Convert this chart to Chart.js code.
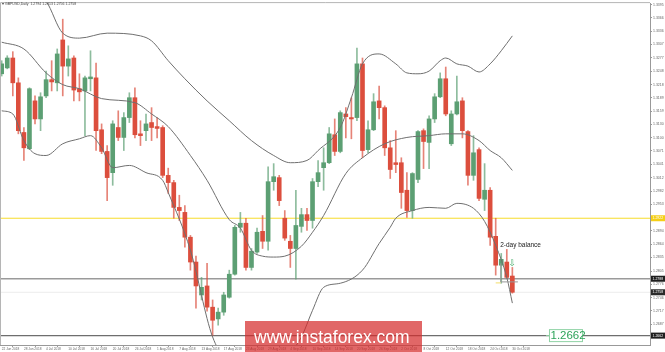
<!DOCTYPE html>
<html>
<head>
<meta charset="utf-8">
<script src="https://cdn.jsdelivr.net/npm/chart.js@4.4.0/dist/chart.umd.min.js"></script>
<style>
  html, body { margin: 0; padding: 0; background: #fff; }
  #wrap { width: 665px; height: 352px; }
</style>
</head>
<body>
<div id="wrap"><canvas id="chart" width="665" height="352"></canvas></div>
<script>
// GBPUSD daily, 22 Jun 2018 .. 30 Oct 2018 (bar index 0..92)
const dateIdx = [0, 4, 8, 12, 16, 20, 24, 28, 32, 36, 40, 44, 48, 52, 56, 60, 64, 68, 72, 76, 80, 84, 88, 92];
const dateLabels = ['22 Jun 2018', '28 Jun 2018', '4 Jul 2018', '10 Jul 2018', '16 Jul 2018', '20 Jul 2018',
  '26 Jul 2018', '1 Aug 2018', '7 Aug 2018', '13 Aug 2018', '17 Aug 2018', '23 Aug 2018', '29 Aug 2018',
  '4 Sep 2018', '10 Sep 2018', '14 Sep 2018', '20 Sep 2018', '26 Sep 2018', '2 Oct 2018', '8 Oct 2018',
  '12 Oct 2018', '18 Oct 2018', '24 Oct 2018', '30 Oct 2018'];

const opens = [1.3242, 1.3255, 1.3277, 1.3222, 1.3112, 1.3076, 1.3182, 1.3142, 1.3193, 1.3229,
  1.3222, 1.3317, 1.3259, 1.3277, 1.3209, 1.3204, 1.3231, 1.3233, 1.3118, 1.3070,
  1.3023, 1.3123, 1.3101, 1.3145, 1.3189, 1.3109, 1.3116, 1.3134, 1.3125, 1.3123,
  1.3017, 1.3001, 1.2946, 1.2935, 1.2880, 1.2825, 1.2752, 1.2772, 1.2725, 1.2699,
  1.2714, 1.2747, 1.2798, 1.2902, 1.2911, 1.2813, 1.2847, 1.2893, 1.2871, 1.3003,
  1.3012, 1.2922, 1.2871, 1.2855, 1.2904, 1.2930, 1.2917, 1.3003, 1.3034, 1.3045,
  1.3107, 1.3070, 1.3153, 1.3145, 1.3145, 1.3264, 1.3074, 1.3118, 1.3182, 1.3167,
  1.3078, 1.3045, 1.3045, 1.2984, 1.2939, 1.3008, 1.3116, 1.3090, 1.3142, 1.3191,
  1.3231, 1.3087, 1.3153, 1.3182, 1.3114, 1.3017, 1.3074, 1.2964, 1.2984, 1.2882,
  1.2818, 1.2825, 1.2794];
const highs = [1.3271, 1.3282, 1.3291, 1.3233, 1.3123, 1.3211, 1.3193, 1.3200, 1.3248, 1.3271,
  1.3297, 1.3363, 1.3304, 1.3282, 1.3242, 1.3237, 1.3293, 1.3266, 1.3131, 1.3083,
  1.3138, 1.3160, 1.3156, 1.3200, 1.3211, 1.3138, 1.3153, 1.3167, 1.3145, 1.3127,
  1.3033, 1.3006, 1.2973, 1.2950, 1.2884, 1.2838, 1.2791, 1.2822, 1.2741, 1.2723,
  1.2758, 1.2807, 1.2906, 1.2935, 1.2922, 1.2855, 1.2900, 1.2928, 1.3036, 1.3043,
  1.3017, 1.2939, 1.2884, 1.2984, 1.2944, 1.2944, 1.3010, 1.3050, 1.3078, 1.3123,
  1.3142, 1.3160, 1.3167, 1.3189, 1.3299, 1.3277, 1.3138, 1.3198, 1.3215, 1.3171,
  1.3094, 1.3116, 1.3056, 1.3023, 1.3023, 1.3116, 1.3120, 1.3149, 1.3198, 1.3244,
  1.3257, 1.3160, 1.3237, 1.3189, 1.3116, 1.3105, 1.3078, 1.3043, 1.2990, 1.2922,
  1.2844, 1.2853, 1.2813];
const lows = [1.3237, 1.3253, 1.3193, 1.3109, 1.3050, 1.3074, 1.3131, 1.3116, 1.3189, 1.3204,
  1.3204, 1.3193, 1.3237, 1.3182, 1.3182, 1.3105, 1.3204, 1.3072, 1.3065, 1.2961,
  1.2995, 1.3094, 1.3072, 1.3134, 1.3100, 1.3083, 1.3094, 1.3094, 1.3100, 1.3012,
  1.2977, 1.2922, 1.2917, 1.2858, 1.2807, 1.2723, 1.2741, 1.2716, 1.2662, 1.2685,
  1.2707, 1.2745, 1.2796, 1.2891, 1.2807, 1.2807, 1.2844, 1.2855, 1.2851, 1.2984,
  1.2950, 1.2873, 1.2813, 1.2787, 1.2891, 1.2895, 1.2900, 1.2992, 1.2984, 1.3043,
  1.3061, 1.3067, 1.3100, 1.3098, 1.3138, 1.3056, 1.3067, 1.3116, 1.3142, 1.3061,
  1.3010, 1.3023, 1.2944, 1.2924, 1.2922, 1.3001, 1.3032, 1.3032, 1.3134, 1.3189,
  1.3149, 1.3083, 1.3151, 1.3100, 1.2995, 1.3006, 1.2961, 1.2939, 1.2862, 1.2796,
  1.2778, 1.2789, 1.2756];
const closes = [1.3264, 1.3277, 1.3222, 1.3116, 1.3078, 1.3209, 1.3142, 1.3191, 1.3229, 1.3224,
  1.3286, 1.3259, 1.3275, 1.3206, 1.3202, 1.3233, 1.3235, 1.3116, 1.3070, 1.3012,
  1.3131, 1.3101, 1.3145, 1.3189, 1.3107, 1.3105, 1.3131, 1.3123, 1.3121, 1.3017,
  1.3001, 1.2946, 1.2939, 1.2880, 1.2825, 1.2772, 1.2769, 1.2725, 1.2696, 1.2714,
  1.2752, 1.2798, 1.2902, 1.2911, 1.2813, 1.2849, 1.2891, 1.2871, 1.3003, 1.3014,
  1.2961, 1.2878, 1.2855, 1.2906, 1.2930, 1.2917, 1.3003, 1.3023, 1.3045, 1.3109,
  1.3070, 1.3156, 1.3147, 1.3142, 1.3264, 1.3072, 1.3118, 1.3180, 1.3167, 1.3078,
  1.3030, 1.3041, 1.2979, 1.2939, 1.3021, 1.3114, 1.3092, 1.3142, 1.3191, 1.3231,
  1.3153, 1.3153, 1.3180, 1.3116, 1.3017, 1.3067, 1.2966, 1.2984, 1.2880, 1.2818,
  1.2831, 1.2791, 1.2758];

// Bollinger bands at a few bars
const upperIdx = [0, 4, 8, 11, 14, 19, 25, 27, 30, 33, 37, 41, 45, 49, 52, 55, 57, 61, 63, 65, 68, 71, 73, 75, 77, 79, 80, 82, 84, 86, 88, 90, 92];
const upperVal = [1.3470, 1.3440, 1.3403, 1.3332, 1.3321, 1.3332, 1.3326, 1.3315, 1.3271, 1.3231, 1.3182, 1.3138, 1.3094, 1.3061, 1.3045, 1.3050, 1.3072, 1.3123, 1.3189, 1.3264, 1.3286, 1.3264, 1.3244, 1.3242, 1.3248, 1.3271, 1.3277, 1.3264, 1.3259, 1.3246, 1.3264, 1.3293, 1.3326];
const midIdx = [0, 4, 8, 11, 14, 18, 24, 27, 30, 34, 37, 41, 43, 45, 47, 49, 51, 54, 56, 58, 62, 65, 69, 73, 77, 80, 83, 86, 88, 90, 92];
const midVal = [1.3312, 1.3297, 1.3244, 1.3218, 1.3209, 1.3187, 1.3178, 1.3153, 1.3125, 1.3061, 1.3006, 1.2919, 1.2900, 1.2851, 1.2838, 1.2836, 1.2838, 1.2860, 1.2891, 1.2928, 1.3021, 1.3056, 1.3087, 1.3101, 1.3105, 1.3109, 1.3109, 1.3094, 1.3072, 1.3056, 1.3028];
const lowerIdx = [0, 2, 4, 6, 8, 11, 14, 16, 18, 20, 23, 26, 29, 30, 34, 38, 42, 47, 51, 54, 56, 58, 61, 65, 68, 70, 71, 74, 77, 80, 82, 85, 87, 89, 91, 92];
const lowerVal = [1.3160, 1.3153, 1.3094, 1.3065, 1.3061, 1.3087, 1.3098, 1.3105, 1.3078, 1.3034, 1.3039, 1.3023, 1.3006, 1.2979, 1.2851, 1.2659, 1.2590, 1.2568, 1.2610, 1.2659, 1.2718, 1.2769, 1.2778, 1.2807, 1.2866, 1.2902, 1.2922, 1.2939, 1.2946, 1.2944, 1.2955, 1.2944, 1.2915, 1.2862, 1.2791, 1.2734];

const priceTicks = [1.3395, 1.3366, 1.3336, 1.3307, 1.3277, 1.3248, 1.3218, 1.3189, 1.3159, 1.3130,
  1.3100, 1.3071, 1.3041, 1.3012, 1.2982, 1.2953, 1.2923, 1.2894, 1.2864, 1.2835,
  1.2805, 1.2776, 1.2746, 1.2717, 1.2687];

// horizontal levels
const yellowLevel = 1.2922;
const grayLevel = 1.2788;
const bidLevel = 1.2758;
const lowLevel = 1.2662;

const X_MIN = -0.306, X_MAX = 116.8;
const Y_MIN = 1.26412, Y_MAX = 1.33986;

const GREEN = '#5c9f73';
const RED = '#dc4e3d';

const pts = (idx, vals) => idx.map((v, i) => ({ x: v, y: vals[i] }));
const level = (p) => [{ x: X_MIN, y: p }, { x: X_MAX, y: p }];

const bodies = opens.map((o, i) => ({ x: i, y: [o, closes[i]] }));
const wicks = opens.map((o, i) => ({ x: i, y: [lows[i], highs[i]] }));
const bodyColors = opens.map((o, i) => (closes[i] >= o ? GREEN : RED));
const wickColors = opens.map((o, i) => (closes[i] >= o ? 'rgba(92,159,115,0.7)' : 'rgba(220,78,61,0.7)'));

const bandLine = (data) => ({
  type: 'line',
  data: data,
  borderColor: '#6f6f6f',
  borderWidth: 1,
  pointRadius: 0,
  cubicInterpolationMode: 'monotone',
  order: 0
});

const levelLine = (p, color, width) => ({
  type: 'line',
  data: level(p),
  borderColor: color,
  borderWidth: width,
  pointRadius: 0,
  order: 3
});

const decor = {
  id: 'decor',
  afterDraw(chart) {
    const { ctx, chartArea: a, scales: { x, y } } = chart;
    ctx.save();

    // frame on the left and top
    ctx.strokeStyle = '#b5b5b5';
    ctx.lineWidth = 1;
    ctx.beginPath();
    ctx.moveTo(a.left + 0.5, a.bottom);
    ctx.lineTo(a.left + 0.5, a.top - 0.5);
    ctx.lineTo(a.right, a.top - 0.5);
    ctx.stroke();

    // symbol title
    ctx.fillStyle = '#444';
    ctx.font = '3.5px Arial';
    ctx.textAlign = 'left';
    ctx.textBaseline = 'middle';
    ctx.fillText('\u25BE GBPUSD,Daily  1.2794 1.2813 1.2756 1.2758', 2, 4);

    // price boxes on the axis
    const boxes = [
      [yellowLevel, '#f5cf16', '#fff'],
      [grayLevel, '#1e1e1e', '#fff'],
      [bidLevel, '#2a2a2a', '#fff'],
      [lowLevel, '#1e1e1e', '#fff']
    ];
    ctx.font = '3.5px Arial';
    boxes.forEach(([p, bg, fg]) => {
      const py = y.getPixelForValue(p);
      ctx.fillStyle = bg;
      ctx.fillRect(a.right + 1, py - 3, 14, 6);
      ctx.fillStyle = fg;
      ctx.fillText(p.toFixed(4), a.right + 2.5, py + 0.2);
    });

    // small bracket under the 2-day balance bars
    const bx = x.getPixelForValue(90) - 0.5;
    const bTop = y.getPixelForValue(1.2822);
    const bBot = y.getPixelForValue(1.2781);
    ctx.strokeStyle = '#9a9a9a';
    ctx.lineWidth = 1;
    ctx.beginPath();
    ctx.moveTo(bx, bTop);
    ctx.lineTo(bx, bBot);
    ctx.lineTo(x.getPixelForValue(93), bBot);
    ctx.stroke();
    ctx.strokeStyle = '#f3df6a';
    ctx.beginPath();
    ctx.moveTo(x.getPixelForValue(89), bBot + 1);
    ctx.lineTo(bx, bBot + 1);
    ctx.stroke();

    // 2-day balance note
    ctx.fillStyle = '#222';
    ctx.font = '6.5px Arial';
    ctx.fillText('2-day balance', x.getPixelForValue(89.8), y.getPixelForValue(1.2863));

    // hollow arrow above the last bar
    ctx.font = '9px "DejaVu Sans"';
    ctx.textAlign = 'center';
    ctx.fillStyle = '#4caf6e';
    ctx.fillText('\u21E9', x.getPixelForValue(92), y.getPixelForValue(1.2822));

    // 1.2662 callout
    const cx = x.getPixelForValue(98.6);
    const cy = y.getPixelForValue(lowLevel);
    ctx.fillStyle = '#fff';
    ctx.fillRect(cx, cy - 6.5, 33, 12);
    ctx.strokeStyle = '#8fd3a5';
    ctx.lineWidth = 1;
    ctx.strokeRect(cx + 0.5, cy - 6, 33, 12);
    ctx.beginPath();
    ctx.moveTo(cx - 3, cy);
    ctx.lineTo(cx, cy);
    ctx.stroke();
    ctx.fillStyle = '#2ea35a';
    ctx.font = '11.5px Arial';
    ctx.textAlign = 'left';
    ctx.fillText('1.2662', cx + 1.5, cy + 0.5);

    // watermark
    ctx.fillStyle = 'rgba(214,44,44,0.72)';
    ctx.fillRect(245, 321, 177, 31);
    ctx.fillStyle = '#fff';
    ctx.font = '17.5px Arial';
    ctx.textBaseline = 'alphabetic';
    ctx.fillText('www.instaforex.com', 254, 343);

    ctx.restore();
  }
};

new Chart(document.getElementById('chart'), {
  type: 'bar',
  data: {
    datasets: [
      bandLine(pts(upperIdx, upperVal)),
      bandLine(pts(midIdx, midVal)),
      bandLine(pts(lowerIdx, lowerVal)),
      levelLine(yellowLevel, '#f7dc2a', 1),
      levelLine(grayLevel, '#9a9a9a', 1.5),
      levelLine(bidLevel, '#ececec', 1),
      levelLine(lowLevel, '#6e6e6e', 1.2),
      {
        data: wicks,
        backgroundColor: wickColors,
        barThickness: 1,
        grouped: false,
        order: 2
      },
      {
        data: bodies,
        backgroundColor: bodyColors,
        barThickness: 4,
        grouped: false,
        order: 1
      }
    ]
  },
  options: {
    responsive: false,
    animation: false,
    devicePixelRatio: 1,
    events: [],
    layout: { padding: { top: 2, left: 0, right: 0, bottom: 0 } },
    plugins: { legend: { display: false }, tooltip: { enabled: false } },
    scales: {
      x: {
        type: 'linear',
        min: X_MIN,
        max: X_MAX,
        offset: false,
        afterBuildTicks: (s) => { s.ticks = dateIdx.map((v) => ({ value: v })); },
        afterFit: (s) => { s.height = 7; },
        grid: { drawOnChartArea: false, tickLength: 2, color: '#999' },
        border: { color: '#999' },
        ticks: {
          autoSkip: false,
          maxRotation: 0,
          minRotation: 0,
          align: 'start',
          padding: 0,
          color: '#666',
          font: { size: 3.2, family: 'Arial' },
          callback: (v) => {
            const k = dateIdx.indexOf(v);
            return k >= 0 ? dateLabels[k] : '';
          }
        }
      },
      y: {
        type: 'linear',
        position: 'right',
        min: Y_MIN,
        max: Y_MAX,
        afterBuildTicks: (s) => { s.ticks = priceTicks.map((v) => ({ value: v })); },
        afterFit: (s) => { s.width = 15; },
        grid: { drawOnChartArea: false, tickLength: 2, color: '#999' },
        border: { color: '#999' },
        ticks: {
          padding: 1,
          color: '#666',
          font: { size: 3.5, family: 'Arial' },
          callback: (v) => v.toFixed(4)
        }
      }
    }
  },
  plugins: [decor]
});
</script>
</body>
</html>
